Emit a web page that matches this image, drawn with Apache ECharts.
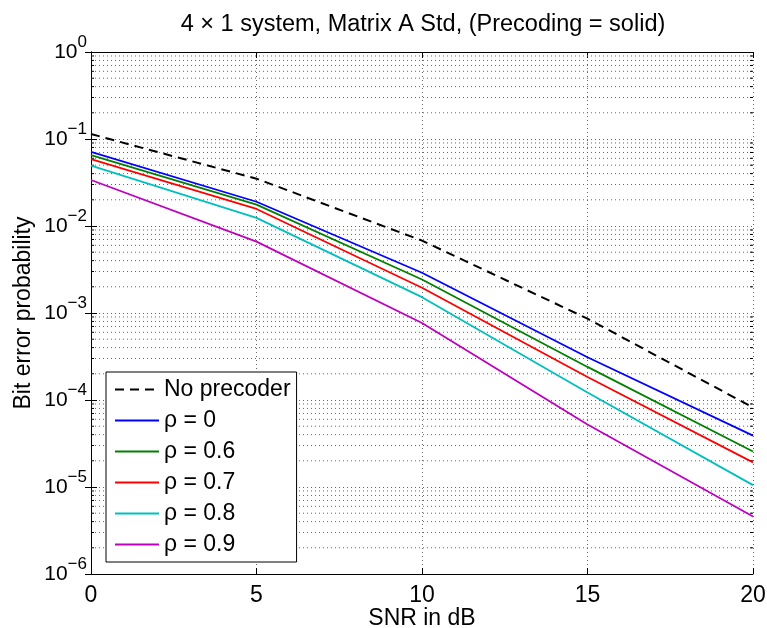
<!DOCTYPE html>
<html>
<head>
<meta charset="utf-8">
<script src="https://cdn.jsdelivr.net/npm/echarts@6/dist/echarts.min.js"></script>
<style>html,body{margin:0;padding:0;background:#fff}#c{width:767px;height:628px}</style>
</head>
<body>
<div id="c"></div>
<script>
// ---- data ----
var snr = [0, 5, 10, 15, 20];
var noPrecoder = [0.114, 0.035, 0.0068, 8.6e-4, 8.2e-5];
var rho0  = [0.0713, 0.019, 0.0029, 3.1e-4, 3.9e-5];
var rho06 = [0.0653, 0.0176, 0.00243, 2.4e-4, 2.56e-5];
var rho07 = [0.0588, 0.0157, 0.00195, 1.84e-4, 1.92e-5];
var rho08 = [0.0493, 0.0124, 0.00152, 1.22e-4, 1.05e-5];
var rho09 = [0.0338, 0.00662, 7.67e-4, 5.24e-5, 4.57e-6];
var seriesNames = ['No precoder', 'ρ = 0', 'ρ = 0.6', 'ρ = 0.7', 'ρ = 0.8', 'ρ = 0.9'];
var xTicks = [0, 5, 10, 15, 20];
var yMin = 1e-6, yMax = 1;

// minor log positions (2..9 per decade)
var minorVals = [];
for (var k = -6; k < 0; k++) {
  for (var m = 2; m <= 9; m++) minorVals.push(m * Math.pow(10, k));
}

var FONT = '"Liberation Sans", Arial, Helvetica, sans-serif';
var dotted = { color: '#666', width: 1, type: [1, 3] };

function pair(ys) { return snr.map(function (x, i) { return [x, ys[i]]; }); }
function supLabel(v) {
  var e = Math.round(Math.log(v) / Math.LN10);
  var s = e < 0 ? '\u2212' + (-e) : '' + e;
  return '{b|10}{s|' + s + '}';
}

var chart = echarts.init(document.getElementById('c'), null, { renderer: 'canvas' });
var lineSeries = [
  { name: seriesNames[0], data: pair(noPrecoder), color: '#000000', lineStyle: { width: 2, type: [9, 6] } },
  { name: seriesNames[1], data: pair(rho0), color: '#0000ff', lineStyle: { width: 1.8 } },
  { name: seriesNames[2], data: pair(rho06), color: '#008000', lineStyle: { width: 1.8 } },
  { name: seriesNames[3], data: pair(rho07), color: '#ff0000', lineStyle: { width: 1.8 } },
  { name: seriesNames[4], data: pair(rho08), color: '#00bfbf', lineStyle: { width: 1.8 } },
  { name: seriesNames[5], data: pair(rho09), color: '#bf00bf', lineStyle: { width: 1.8 } }
].map(function (s) {
  return {
    type: 'line', name: s.name, data: s.data, symbol: 'none', z: 5,
    itemStyle: { color: s.color },
    lineStyle: Object.assign({ color: s.color }, s.lineStyle),
    animation: false
  };
});

var option = {
  animation: false,
  backgroundColor: '#fff',
  textStyle: { fontFamily: FONT, color: '#000' },
  title: {
    text: '4 \u00d7 1 system, Matrix A Std, (Precoding = solid)',
    left: 418, top: 8, textAlign: 'center',
    textStyle: { fontFamily: FONT, fontSize: 23.5, fontWeight: 'normal', color: '#000' }
  },
  grid: { left: 91, right: 14, top: 52, bottom: 54, containLabel: false, outerBoundsMode: 'none' },
  legend: {
    data: seriesNames,
    orient: 'vertical',
    left: 106, top: 372,
    padding: [6, 6, 6, 8],
    itemGap: 8,
    itemWidth: 44, itemHeight: 14,
    backgroundColor: '#fff',
    borderColor: '#000', borderWidth: 1,
    borderRadius: 0,
    itemStyle: { opacity: 0, borderWidth: 0 },
    textStyle: { fontFamily: FONT, fontSize: 23, color: '#000', lineHeight: 23 },
    z: 10
  },
  xAxis: [{
    type: 'value', min: 0, max: 20, interval: 5,
    name: 'SNR in dB', nameLocation: 'middle', nameGap: 33, nameMoveOverlap: false,
    nameTextStyle: { fontFamily: FONT, fontSize: 23, color: '#000' },
    axisLine: { lineStyle: { color: '#000', width: 1 } },
    axisTick: { inside: true, length: 6, lineStyle: { color: '#000' } },
    axisLabel: { fontFamily: FONT, fontSize: 23, color: '#000', margin: 10 },
    splitLine: { show: true, lineStyle: dotted }
  }, {
    type: 'value', min: 0, max: 20, interval: 5, position: 'top',
    axisLine: { show: true, lineStyle: { color: '#000', width: 1 } },
    axisTick: { show: true, inside: true, length: 6, lineStyle: { color: '#000' } },
    axisLabel: { show: false },
    splitLine: { show: false }
  }],
  yAxis: [{
    type: 'log', logBase: 10, min: yMin, max: yMax,
    name: 'Bit error probability', nameLocation: 'middle', nameGap: 56, nameMoveOverlap: false,
    nameTextStyle: { fontFamily: FONT, fontSize: 23, color: '#000' },
    axisLine: { show: true, lineStyle: { color: '#000', width: 1 } },
    axisTick: { show: true, inside: true, length: 6, lineStyle: { color: '#000' } },
    axisLabel: {
      margin: 4, color: '#000',
      formatter: supLabel,
      rich: {
        b: { fontFamily: FONT, fontSize: 21, lineHeight: 36, color: '#000' },
        s: { fontFamily: FONT, fontSize: 17, lineHeight: 16, verticalAlign: 'top', color: '#000' }
      }
    },
    splitLine: { show: true, lineStyle: dotted }
  }, {
    type: 'log', logBase: 10, min: yMin, max: yMax, position: 'right',
    axisLine: { show: true, lineStyle: { color: '#000', width: 1 } },
    axisTick: { show: true, inside: true, length: 6, lineStyle: { color: '#000' } },
    axisLabel: { show: false },
    splitLine: { show: false }
  }],
  series: [{
    type: 'custom', name: 'minorGrid', silent: true, z: 1,
    xAxisIndex: 0, yAxisIndex: 0,
    data: minorVals.map(function (v) { return [0, v]; }),
    encode: { x: 0, y: 1 },
    renderItem: function (params, api) {
      var v = api.value(1);
      var p0 = api.coord([0, v]);
      var p1 = api.coord([20, v]);
      return {
        type: 'group',
        children: [
          { type: 'line', shape: { x1: p0[0], y1: p0[1], x2: p1[0], y2: p1[1] }, style: { stroke: '#666', lineWidth: 1, lineDash: [1, 3] } },
          { type: 'line', shape: { x1: p0[0], y1: p0[1], x2: p0[0] + 3, y2: p0[1] }, style: { stroke: '#000', lineWidth: 1 } },
          { type: 'line', shape: { x1: p1[0] - 3, y1: p1[1], x2: p1[0], y2: p1[1] }, style: { stroke: '#000', lineWidth: 1 } }
        ]
      };
    }
  }].concat(lineSeries)
};
chart.setOption(option);
</script>
</body>
</html>
